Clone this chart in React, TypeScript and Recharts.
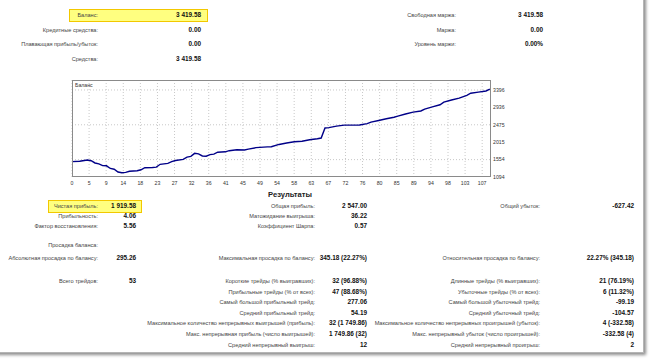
import React from "react"
import { CartesianGrid, Line, LineChart, XAxis, YAxis } from "recharts"

// balance curve (trade index -> balance)
const tradeIdx = [0, 2, 4, 5, 6, 7, 8, 9, 10, 11, 12, 13, 14, 15, 17, 18, 19, 21, 22, 23, 25, 26, 27, 29, 30, 31, 32, 33, 34, 35, 36, 37, 38, 40, 41, 43, 45, 46, 48, 51, 52, 54, 56, 58, 60, 62, 64, 65, 66, 67, 69, 71, 73, 75, 77, 78, 80, 82, 84, 85, 87, 89, 91, 92, 94, 96, 97, 99, 101, 103, 104, 106, 108, 109]
const balance = [1500, 1510, 1545, 1525, 1465, 1440, 1395, 1390, 1320, 1300, 1225, 1205, 1215, 1245, 1260, 1285, 1340, 1345, 1355, 1430, 1455, 1500, 1530, 1560, 1620, 1640, 1720, 1705, 1650, 1645, 1685, 1700, 1750, 1760, 1790, 1815, 1810, 1830, 1870, 1890, 1895, 1955, 1995, 2025, 2040, 2080, 2105, 2125, 2390, 2400, 2440, 2465, 2465, 2470, 2505, 2545, 2590, 2635, 2675, 2705, 2760, 2810, 2840, 2890, 2950, 3005, 3075, 3130, 3180, 3255, 3310, 3340, 3370, 3419.58]

const xLabels = ["0", "5", "9", "14", "18", "23", "27", "32", "36", "41", "45", "49", "54", "58", "63", "67", "72", "76", "80", "85", "89", "94", "98", "103", "107"]
const yTicks = [1094, 1554, 2015, 2475, 2936, 3396]

// report text
const topLeftLabels = ["Баланс:", "Кредитные средства:", "Плавающая прибыль/убыток:", "Средства:"]
const topLeftValues = ["3 419.58", "0.00", "0.00", "3 419.58"]
const topRightLabels = ["Свободная маржа:", "Маржа:", "Уровень маржи:"]
const topRightValues = ["3 419.58", "0.00", "0.00%"]

const col1Labels = ["Чистая прибыль:", "Прибыльность:", "Фактор восстановления:", "Просадка баланса:", "Абсолютная просадка по балансу:", "Всего трейдов:"]
const col1Values = ["1 919.58", "4.06", "5.56", "", "295.26", "53"]
const col1Rows = [206, 216, 226, 245, 258, 281]

const col2Labels = ["Общая прибыль:", "Матожидание выигрыша:", "Коэффициент Шарпа:", "Максимальная просадка по балансу:", "Короткие трейды (% выигравших):", "Прибыльные трейды (% от всех):", "Самый большой прибыльный трейд:", "Средний прибыльный трейд:", "Максимальное количество непрерывных выигрышей (прибыль):", "Макс. непрерывная прибыль (число выигрышей):", "Средний непрерывный выигрыш:"]
const col2Values = ["2 547.00", "36.22", "0.57", "345.18 (22.27%)", "32 (96.88%)", "47 (88.68%)", "277.06", "54.19", "32 (1 749.86)", "1 749.86 (32)", "12"]
const col2Rows = [206, 216, 226, 258, 281, 292, 302, 313, 323, 334, 345]

const col3Labels = ["Общий убыток:", "Относительная просадка по балансу:", "Длинные трейды (% выигравших):", "Убыточные трейды (% от всех):", "Самый большой убыточный трейд:", "Средний убыточный трейд:", "Максимальное количество непрерывных проигрышей (убыток):", "Макс. непрерывный убыток (число проигрышей):", "Средний непрерывный проигрыш:"]
const col3Values = ["-627.42", "22.27% (345.18)", "21 (76.19%)", "6 (11.32%)", "-99.19", "-104.57", "4 (-332.58)", "-332.58 (4)", "2"]
const col3Rows = [206, 258, 281, 292, 302, 313, 323, 334, 345]

const W = 650
const FONT = "'Liberation Sans', Arial, sans-serif"

function Txt({ x, y, text, bold }: { x: number; y: number; text: string; bold?: boolean }) {
  return (
    <div
      style={{
        position: "absolute",
        right: W - x,
        top: y - 5,
        lineHeight: "10px",
        whiteSpace: "nowrap",
        fontSize: bold ? 6.4 : 5.6,
        fontWeight: bold ? 700 : 400,
        color: bold ? "#111" : "#444",
      }}
    >
      {text}
    </div>
  )
}

function Column({ labels, values, rows, labelX, valueX }: { labels: string[]; values: string[]; rows: number[]; labelX: number; valueX: number }) {
  return (
    <>
      {labels.map((l, i) => (
        <React.Fragment key={i}>
          <Txt x={labelX} y={rows[i]} text={l} />
          {values[i] && <Txt x={valueX} y={rows[i]} text={values[i]} bold />}
        </React.Fragment>
      ))}
    </>
  )
}

export default function App() {
  const data = tradeIdx.map((x, i) => ({ x, balance: balance[i] }))
  const xTicks = xLabels.map((_, i) => (i * 107) / 24)

  return (
    <div style={{ position: "absolute", left: 0, top: 0, width: W, height: 364, background: "#fff", overflow: "hidden", fontFamily: FONT }}>
      {/* page sheet with shadow */}
      <div
        style={{
          position: "absolute",
          left: -10,
          top: -10,
          width: 652,
          height: 361,
          border: "1px solid #b5b5b5",
          boxShadow: "2px 2px 3px rgba(0,0,0,0.45)",
          background: "#fff",
        }}
      />

      {/* highlight boxes */}
      <div style={{ position: "absolute", left: 69, top: 9, width: 137, height: 11, background: "#ffff80", border: "1px solid #f2c800" }} />
      <div style={{ position: "absolute", left: 48, top: 200, width: 92, height: 11, background: "#ffff80", border: "1px solid #f2c800" }} />

      <Column labels={topLeftLabels} values={topLeftValues} rows={[15, 30, 44, 59]} labelX={98} valueX={201} />
      <Column labels={topRightLabels} values={topRightValues} rows={[15, 30, 44]} labelX={456} valueX={543} />

      <div style={{ position: "absolute", left: 240, width: 100, top: 190, textAlign: "center", fontSize: 7.6, fontWeight: 700, color: "#222", lineHeight: "10px" }}>
        Результаты
      </div>

      <Column labels={col1Labels} values={col1Values} rows={col1Rows} labelX={98} valueX={136} />
      <Column labels={col2Labels} values={col2Values} rows={col2Rows} labelX={315} valueX={367} />
      <Column labels={col3Labels} values={col3Values} rows={col3Rows} labelX={540} valueX={634} />

      {/* balance chart */}
      <div style={{ position: "absolute", left: 0, top: 0 }}>
        <LineChart width={560} height={200} data={data} margin={{ top: 80, right: 39, left: 72, bottom: 11 }}>
          <CartesianGrid stroke="#c8c8c8" strokeDasharray="1 2" horizontalValues={yTicks} verticalValues={xTicks} />
          <XAxis
            dataKey="x"
            type="number"
            domain={[0, 109.3]}
            ticks={xTicks}
            tickFormatter={(_v: number, i: number) => xLabels[i]}
            interval={0}
            axisLine={false}
            tickLine={false}
            tickSize={0}
            tickMargin={4}
            height={12}
            tick={{ fontSize: 5.2, fill: "#333", fontFamily: FONT }}
          />
          <YAxis
            orientation="right"
            type="number"
            domain={[1094, 3660]}
            ticks={yTicks}
            allowDataOverflow
            axisLine={false}
            tickLine={false}
            tickSize={0}
            tickMargin={2}
            width={30}
            tick={{ fontSize: 5.2, fill: "#333", fontFamily: FONT, textAnchor: "start" }}
          />
          <Line type="linear" dataKey="balance" stroke="#000088" strokeWidth={1.4} dot={false} isAnimationActive={false} />
        </LineChart>
      </div>
      <div style={{ position: "absolute", left: 72, top: 80, width: 419, height: 97, border: "1px solid #8a8a8a", boxSizing: "border-box", pointerEvents: "none" }} />
      <div style={{ position: "absolute", left: 75, top: 82, fontSize: 5.2, color: "#333", lineHeight: "7px" }}>Баланс</div>
    </div>
  )
}
